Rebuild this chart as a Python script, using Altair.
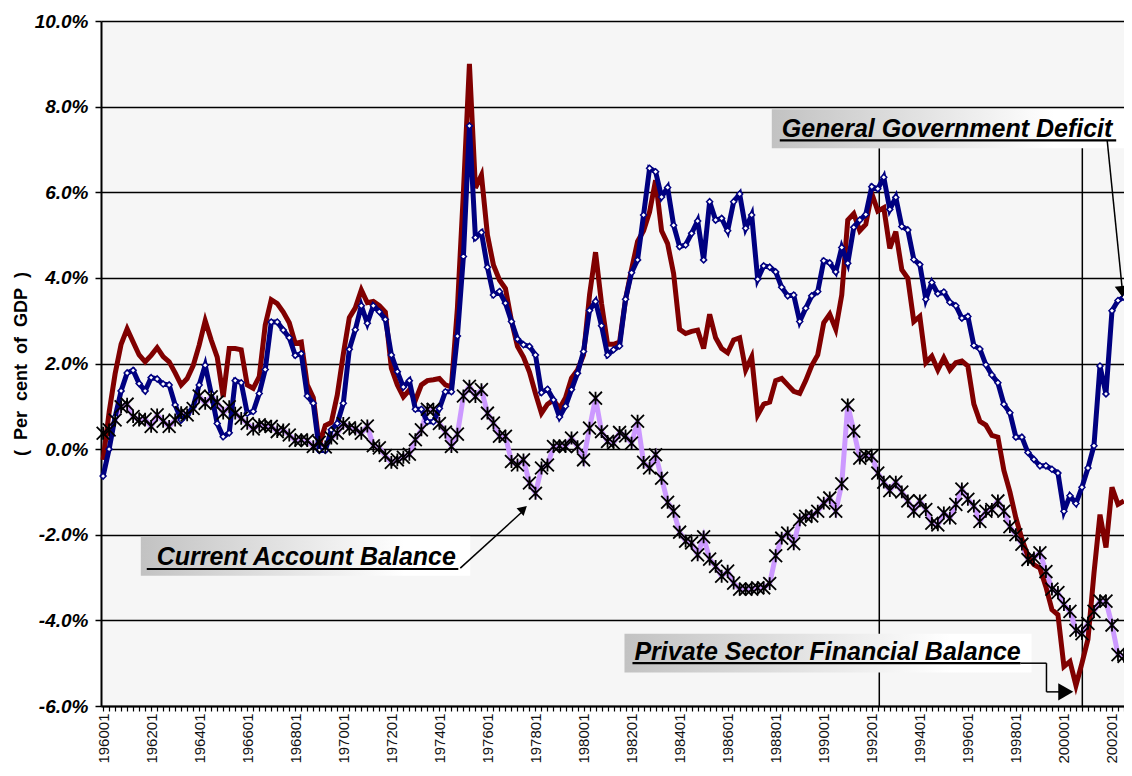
import json
import altair as alt
import pandas as pd

# Quarterly observations, 1960Q1 .. 2002Q3 (per cent of GDP)
ggd = [-0.63, 0.00, 0.75, 1.36, 1.78, 1.84, 1.53, 1.36, 1.67, 1.64,
       1.52, 1.50, 1.03, 0.68, 0.80, 0.99, 1.50, 1.96, 1.30, 0.60,
       0.29, 0.38, 1.60, 1.55, 0.84, 0.88, 1.30, 1.86, 2.97, 2.97,
       2.78, 2.60, 2.19, 2.23, 1.24, 1.07, -0.03, -0.03, 0.45, 0.60,
       1.07, 2.33, 2.79, 3.35, 2.94, 3.35, 3.21, 3.03, 2.20, 1.81,
       1.45, 1.60, 0.93, 0.93, 0.64, 0.64, 0.95, 1.34, 1.34, 2.64,
       4.50, 7.55, 4.94, 5.06, 4.25, 3.60, 3.68, 3.41, 2.98, 2.57,
       2.44, 2.40, 2.20, 1.32, 1.40, 1.15, 0.75, 1.00, 1.39, 1.77,
       2.28, 3.24, 3.45, 2.88, 2.20, 2.32, 2.41, 3.50, 4.12, 4.42,
       5.47, 6.56, 6.48, 5.89, 6.11, 5.23, 4.73, 4.77, 5.04, 5.33,
       4.42, 5.78, 5.35, 5.39, 5.10, 5.78, 5.96, 5.16, 5.47, 3.97,
       4.28, 4.25, 4.14, 3.78, 3.58, 3.60, 2.98, 3.29, 3.58, 3.68,
       4.40, 4.35, 4.14, 4.71, 4.34, 5.18, 5.35, 5.48, 6.13, 6.08,
       6.35, 5.60, 5.88, 5.20, 5.12, 4.43, 4.31, 3.50, 3.89, 3.63,
       3.67, 3.43, 3.35, 3.06, 3.10, 2.42, 2.34, 1.97, 1.73, 1.55,
       1.05, 0.85, 0.28, 0.28, -0.08, -0.24, -0.39, -0.39, -0.47, -0.56,
       -1.45, -1.09, -1.27, -0.89, -0.44, 0.08, 1.94, 1.29, 3.23, 3.47,
       3.55]

psfb = [-0.25, 0.86, 1.76, 2.45, 2.81, 2.50, 2.20, 2.04, 2.19, 2.37,
        2.16, 2.04, 1.78, 1.50, 1.65, 1.95, 2.43, 3.00, 2.55, 2.15,
        1.22, 2.35, 2.35, 2.32, 1.50, 1.42, 1.69, 2.90, 3.49, 3.40,
        3.20, 2.95, 2.47, 2.50, 1.50, 1.20, 0.10, 0.55, 0.62, 1.27,
        2.22, 3.07, 3.30, 3.72, 3.42, 3.45, 3.35, 3.20, 1.89, 1.50,
        1.22, 1.38, 1.14, 1.50, 1.60, 1.62, 1.65, 1.50, 1.45, 3.30,
        6.00, 9.00, 6.10, 6.40, 5.00, 4.30, 3.95, 3.75, 3.00, 2.40,
        2.15, 1.80, 1.30, 0.84, 1.05, 1.15, 0.95, 1.20, 1.66, 1.85,
        2.20, 3.60, 4.60, 3.40, 2.45, 2.45, 2.50, 3.50, 4.20, 4.85,
        5.10, 5.54, 6.28, 5.10, 4.80, 4.10, 2.80, 2.70, 2.75, 2.78,
        2.35, 3.15, 2.60, 2.35, 2.25, 2.55, 2.60, 1.85, 2.15, 0.80,
        1.05, 1.10, 1.60, 1.65, 1.50, 1.35, 1.30, 1.60, 1.95, 2.20,
        2.95, 3.15, 2.80, 3.60, 5.35, 5.50, 5.10, 5.25, 5.97, 5.56,
        5.64, 4.69, 5.08, 4.19, 3.99, 2.98, 3.10, 2.02, 2.17, 1.85,
        2.13, 1.85, 2.02, 2.06, 1.94, 1.05, 0.65, 0.56, 0.32, 0.28,
        -0.50, -1.00, -1.61, -2.10, -2.50, -2.70, -2.78, -3.22, -3.75, -3.87,
        -5.08, -4.96, -5.52, -5.00, -4.44, -2.90, -1.53, -2.30, -0.89, -1.29,
        -1.21]

cab = [0.37, 0.45, 0.68, 0.99, 1.05, 0.76, 0.68, 0.70, 0.53, 0.80,
       0.65, 0.53, 0.68, 0.85, 0.80, 0.95, 1.24, 1.07, 1.22, 1.10,
       0.84, 0.99, 0.84, 0.72, 0.60, 0.47, 0.57, 0.53, 0.53, 0.41,
       0.45, 0.33, 0.20, 0.22, 0.20, 0.06, 0.16, 0.05, 0.26, 0.37,
       0.60, 0.50, 0.47, 0.37, 0.54, 0.08, 0.03, -0.15, -0.31, -0.25,
       -0.19, -0.12, 0.22, 0.45, 0.93, 0.93, 0.60, 0.40, 0.06, 0.35,
       1.24, 1.47, 1.23, 1.39, 0.84, 0.61, 0.30, 0.30, -0.29, -0.37,
       -0.25, -0.79, -1.03, -0.44, -0.37, 0.06, 0.08, 0.06, 0.26, 0.06,
       -0.25, 0.49, 1.19, 0.41, 0.18, 0.14, 0.39, 0.31, 0.14, 0.65,
       -0.31, -0.44, -0.13, -0.68, -1.24, -1.45, -1.94, -2.15, -2.19, -2.47,
       -2.05, -2.57, -2.74, -2.97, -2.85, -3.13, -3.27, -3.27, -3.27, -3.24,
       -3.24, -3.14, -2.49, -2.08, -1.96, -2.21, -1.65, -1.57, -1.56, -1.45,
       -1.26, -1.14, -1.45, -0.81, 1.03, 0.42, -0.21, -0.15, -0.16, -0.56,
       -0.77, -0.97, -0.77, -1.00, -1.21, -1.45, -1.21, -1.41, -1.73, -1.77,
       -1.49, -1.61, -1.29, -0.93, -1.17, -1.33, -1.69, -1.45, -1.41, -1.21,
       -1.45, -1.81, -2.00, -2.22, -2.58, -2.54, -2.42, -2.86, -3.27, -3.35,
       -3.63, -3.79, -4.23, -4.31, -4.07, -3.79, -3.55, -3.55, -4.11, -4.80,
       -4.84]

tick_labels = ["196001", "196201", "196401", "196601", "196801", "197001",
               "197201", "197401", "197601", "197801", "198001", "198201",
               "198401", "198601", "198801", "199001", "199201", "199401",
               "199601", "199801", "200001", "200201"]

y_ticks = [-6, -4, -2, 0, 2, 4, 6, 8, 10]

n = len(ggd)
idx = list(range(n))
d_ggd = pd.DataFrame({"i": idx, "v": ggd})
d_psfb = pd.DataFrame({"i": idx, "v": psfb})
d_cab = pd.DataFrame({"i": idx, "v": cab})

FONT = "Liberation Sans"
NB = "\u00a0"
xs = alt.Scale(domain=[-0.35, 170.0], nice=False, zero=False)
ys = alt.Scale(domain=[-6, 10], nice=False, zero=False)

label_expr = ("datum.value % 8 == 0 ? " + json.dumps(tick_labels) +
              "[datum.value / 8] : ''")

x_axis = alt.Axis(values=idx, labelExpr=label_expr, labelAngle=270,
                  labelFont=FONT, labelFontSize=15, labelColor="#111",
                  labelPadding=2, labelOverlap=False, labelBound=False,
                  labelFlush=False, tickSize=5, tickColor="black",
                  tickWidth=1.2, domainColor="black", domainWidth=2,
                  grid=False, title=None)
y_title = NB.join(["(", "", "Per", "", "cent", "", "of", "", "GDP", "", ")"])
y_axis = alt.Axis(values=y_ticks,
                  labelExpr="(datum.value < 0 ? '-' : '') + format(abs(datum.value), '.1f') + '%'",
                  labelFont=FONT, labelFontSize=19, labelFontStyle="italic",
                  labelFontWeight="bold", labelColor="black", labelPadding=7,
                  tickSize=6, tickColor="black", tickWidth=1.5,
                  domainColor="black", domainWidth=2,
                  grid=True, gridColor="black", gridWidth=1.5,
                  title=y_title, titleFont=FONT,
                  titleFontSize=18, titleFontWeight="bold", titleColor="black",
                  titlePadding=4)

X = alt.X("i:Q", scale=xs, axis=x_axis)
Y = alt.Y("v:Q", scale=ys, axis=y_axis)

# --- annotation geometry (data units) ---
boxes = pd.DataFrame({
    "i": [111.35, 6.28, 86.82], "i2": [170.0, 61.13, 154.6],
    "v": [7.94, -2.04, -4.31], "v2": [7.03, -2.96, -5.22]})
texts = pd.DataFrame({
    "i": [113.0, 8.93, 88.48], "v": [7.29, -2.71, -4.93],
    "t": ["General Government Deficit", "Current Account Balance",
          "Private Sector Financial Balance"]})
segs_under = pd.DataFrame({
    "i": [112.68, 7.27, 88.15], "i2": [168.7, 59.15, 152.78],
    "v": [7.21, -2.80, -5.0], "v2": [7.21, -2.80, -5.0]})
segs_lines = pd.DataFrame({
    "i": [167.2, 59.48, 152.78, 157.09, 157.09],
    "i2": [169.7, 69.75, 157.09, 157.09, 159.5],
    "v": [7.21, -2.78, -5.0, -5.0, -5.67],
    "v2": [3.75, -1.47, -5.0, -5.67, -5.67]})
vlines = pd.DataFrame({"i": [129.25, 163.06], "i2": [129.25, 163.06],
                       "v": [7.03, 7.21], "v2": [-6, -6]})

grad = alt.Gradient(gradient="linear",
                    stops=[alt.GradientStop(color="#c2c2c2", offset=0),
                           alt.GradientStop(color="#ffffff", offset=0.8),
                           alt.GradientStop(color="#ffffff", offset=1)],
                    x1=0, x2=1, y1=0, y2=0)

vrule = alt.Chart(vlines).mark_rule(color="black", strokeWidth=1.5).encode(
    x=X, x2="i2:Q", y=Y, y2="v2:Q")

line_cab = alt.Chart(d_cab).mark_line(color="#CC99FF", strokeWidth=5).encode(x=X, y=Y)
line_psfb = alt.Chart(d_psfb).mark_line(color="#800000", strokeWidth=5).encode(x=X, y=Y)
line_ggd = alt.Chart(d_ggd).mark_line(color="#000080", strokeWidth=5).encode(x=X, y=Y)
pts_ggd = alt.Chart(d_ggd).mark_point(shape="diamond", filled=True, fill="white",
                                      stroke="#000080", strokeWidth=1.5,
                                      size=36, opacity=1).encode(x=X, y=Y)
star = "M-1,-1L1,1M-1,1L1,-1M0,-1L0,1"
pts_cab = alt.Chart(d_cab).mark_point(shape=star, filled=False, stroke="black",
                                      strokeWidth=1.8, size=165,
                                      opacity=1).encode(x=X, y=Y)

box_layer = alt.Chart(boxes).mark_rect(color=grad).encode(
    x=X, x2="i2:Q", y=Y, y2="v2:Q")
text_layer = alt.Chart(texts).mark_text(
    font=FONT, fontSize=25, fontStyle="italic", fontWeight="bold",
    align="left", baseline="alphabetic", color="black").encode(
    x=X, y=Y, text="t:N")
under_layer = alt.Chart(segs_under).mark_rule(color="black", strokeWidth=2.2).encode(
    x=X, x2="i2:Q", y=Y, y2="v2:Q")
conn_layer = alt.Chart(segs_lines).mark_rule(color="black", strokeWidth=1.5).encode(
    x=X, x2="i2:Q", y=Y, y2="v2:Q")

head1 = alt.Chart(pd.DataFrame({"i": [169.65], "v": [3.68]})).mark_point(
    shape="triangle-up", filled=True, color="black", size=170, angle=173,
    opacity=1).encode(x=X, y=Y)
head2 = alt.Chart(pd.DataFrame({"i": [70.0], "v": [-1.40]})).mark_point(
    shape="triangle-up", filled=True, color="black", size=110, angle=48,
    opacity=1).encode(x=X, y=Y)
head3 = alt.Chart(pd.DataFrame({"i": [160.3], "v": [-5.67]})).mark_point(
    shape="triangle-up", filled=True, color="black", size=300, angle=90,
    opacity=1).encode(x=X, y=Y)

chart = alt.layer(
    line_cab, vrule, line_psfb, line_ggd, pts_ggd, pts_cab,
    box_layer, text_layer, under_layer, conn_layer, head1, head2, head3
).properties(
    width=1023, height=685,
    background="white",
    autosize=alt.AutoSizeParams(type="none"),
    padding={"left": 93, "top": 13, "right": 0, "bottom": 58},
).configure_view(fill="#f6f6f6", stroke="transparent")

chart.save("out.html", embed_options={"renderer": "svg", "actions": False})
